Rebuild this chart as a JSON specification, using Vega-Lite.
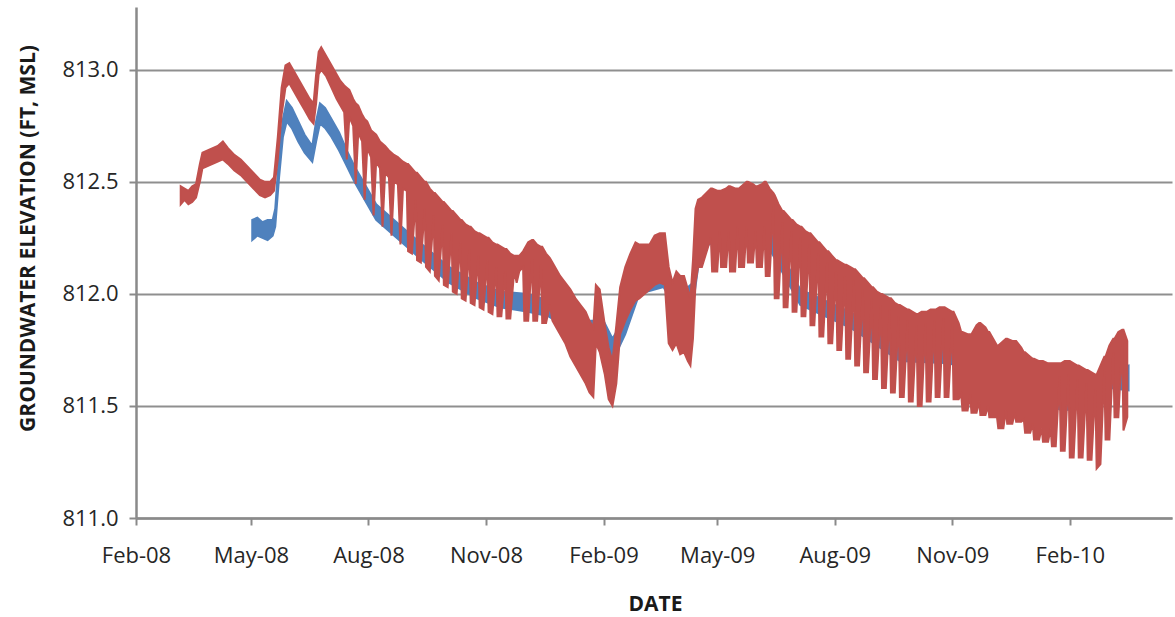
{
"$schema":"https://vega.github.io/schema/vega-lite/v6.json",
"width":1036,"height":511,
"autosize":{"type":"none"},
"padding":{"left":136,"top":7,"right":3,"bottom":99},
"background":"white",
"config":{"view":{"stroke":null},"font":"Open Sans","axis":{"labelFont":"Open Sans","titleFont":"Open Sans"}},
"datasets":{
"blue":[
{"d":"2008-05-02","l":812.24,"h":812.33},{"d":"2008-05-06","l":812.26,"h":812.34},{"d":"2008-05-10","l":812.25,"h":812.32},{"d":"2008-05-14","l":812.24,"h":812.33},{"d":"2008-05-18","l":812.26,"h":812.33},{"d":"2008-05-20","l":812.30,"h":812.38},{"d":"2008-05-23","l":812.52,"h":812.62},{"d":"2008-05-26","l":812.70,"h":812.78},{"d":"2008-05-29","l":812.77,"h":812.86},{"d":"2008-06-02","l":812.74,"h":812.83},{"d":"2008-06-07","l":812.68,"h":812.77},{"d":"2008-06-12","l":812.63,"h":812.71},{"d":"2008-06-18","l":812.59,"h":812.66},{"d":"2008-06-21","l":812.68,"h":812.77},{"d":"2008-06-24","l":812.76,"h":812.85},{"d":"2008-06-28","l":812.74,"h":812.83},{"d":"2008-07-03","l":812.70,"h":812.78},{"d":"2008-07-09","l":812.64,"h":812.72},{"d":"2008-07-15","l":812.57,"h":812.64},{"d":"2008-07-21","l":812.50,"h":812.57},{"d":"2008-07-28","l":812.43,"h":812.50},{"d":"2008-08-07","l":812.33,"h":812.40},{"d":"2008-08-25","l":812.24,"h":812.31},{"d":"2008-09-10","l":812.16,"h":812.23},{"d":"2008-10-03","l":812.05,"h":812.12},{"d":"2008-10-25","l":811.98,"h":812.05},{"d":"2008-11-12","l":811.94,"h":812.01},{"d":"2008-12-04","l":811.92,"h":812.00},{"d":"2008-12-20","l":811.90,"h":811.97},{"d":"2009-01-16","l":811.80,"h":811.88},{"d":"2009-02-01","l":811.78,"h":811.88},{"d":"2009-02-08","l":811.70,"h":811.80},{"d":"2009-02-18","l":811.82,"h":811.90},{"d":"2009-03-01","l":812.00,"h":812.08},{"d":"2009-03-20","l":812.03,"h":812.11},{"d":"2009-04-02","l":811.90,"h":812.00},{"d":"2009-04-12","l":811.95,"h":812.05},{"d":"2009-04-18","l":812.20,"h":812.30},{"d":"2009-05-01","l":812.24,"h":812.32},{"d":"2009-06-11","l":812.20,"h":812.28},{"d":"2009-07-05","l":811.95,"h":812.02},{"d":"2009-08-13","l":811.85,"h":811.92},{"d":"2009-09-21","l":811.70,"h":811.78},{"d":"2009-10-30","l":811.69,"h":811.76},{"d":"2009-12-08","l":811.60,"h":811.66},{"d":"2010-01-26","l":811.48,"h":811.57},{"d":"2010-02-25","l":811.50,"h":811.58},{"d":"2010-03-05","l":811.58,"h":811.66},{"d":"2010-03-19","l":811.57,"h":811.68}
],
"red":[
{"d":"2008-03-07","l":812.40,"h":812.48},{"d":"2008-03-10","l":812.42,"h":812.47},{"d":"2008-03-13","l":812.40,"h":812.46},{"d":"2008-03-16","l":812.41,"h":812.48},{"d":"2008-03-19","l":812.43,"h":812.49},{"d":"2008-03-22","l":812.50,"h":812.58},{"d":"2008-03-24","l":812.56,"h":812.63},{"d":"2008-03-28","l":812.57,"h":812.64},{"d":"2008-04-01","l":812.58,"h":812.65},{"d":"2008-04-05","l":812.59,"h":812.66},{"d":"2008-04-09","l":812.60,"h":812.68},{"d":"2008-04-13","l":812.58,"h":812.65},{"d":"2008-04-18","l":812.55,"h":812.62},{"d":"2008-04-23","l":812.53,"h":812.60},{"d":"2008-04-28","l":812.50,"h":812.57},{"d":"2008-05-03","l":812.47,"h":812.54},{"d":"2008-05-08","l":812.44,"h":812.51},{"d":"2008-05-12","l":812.43,"h":812.50},{"d":"2008-05-16","l":812.44,"h":812.50},{"d":"2008-05-19","l":812.46,"h":812.52},{"d":"2008-05-22","l":812.60,"h":812.70},{"d":"2008-05-25","l":812.80,"h":812.92},{"d":"2008-05-28","l":812.92,"h":813.02},{"d":"2008-05-31","l":812.94,"h":813.03},{"d":"2008-06-04","l":812.90,"h":812.99},{"d":"2008-06-08","l":812.86,"h":812.95},{"d":"2008-06-12","l":812.82,"h":812.91},{"d":"2008-06-16","l":812.78,"h":812.87},{"d":"2008-06-19","l":812.76,"h":812.85},{"d":"2008-06-21","l":812.85,"h":812.98},{"d":"2008-06-23","l":812.98,"h":813.08},{"d":"2008-06-25","l":813.00,"h":813.10},{"d":"2008-06-29","l":812.97,"h":813.06},{"d":"2008-07-03","l":812.92,"h":813.02},{"d":"2008-07-07","l":812.87,"h":812.98},{"d":"2008-07-10","l":812.84,"h":812.95},
{"d":"2008-07-13","l":812.81,"h":812.93},{"d":"2008-07-15","l":812.60,"h":812.92},{"d":"2008-07-17","l":812.79,"h":812.91},
{"d":"2008-07-20","l":812.75,"h":812.87},{"d":"2008-07-22","l":812.49,"h":812.85},{"d":"2008-07-24","l":812.72,"h":812.84},
{"d":"2008-07-27","l":812.68,"h":812.80},{"d":"2008-07-29","l":812.42,"h":812.78},{"d":"2008-07-31","l":812.65,"h":812.77},
{"d":"2008-08-03","l":812.61,"h":812.73},{"d":"2008-08-05","l":812.35,"h":812.72},{"d":"2008-08-07","l":812.59,"h":812.71},
{"d":"2008-08-10","l":812.56,"h":812.68},{"d":"2008-08-12","l":812.30,"h":812.67},{"d":"2008-08-14","l":812.54,"h":812.66},
{"d":"2008-08-17","l":812.52,"h":812.64},{"d":"2008-08-19","l":812.26,"h":812.63},{"d":"2008-08-21","l":812.50,"h":812.62},
{"d":"2008-08-24","l":812.49,"h":812.61},{"d":"2008-08-26","l":812.22,"h":812.60},{"d":"2008-08-28","l":812.47,"h":812.59},
{"d":"2008-08-31","l":812.46,"h":812.58},{"d":"2008-09-01","l":812.19,"h":812.58},{"d":"2008-09-04","l":812.18,"h":812.56},
{"d":"2008-09-07","l":812.42,"h":812.54},{"d":"2008-09-08","l":812.15,"h":812.54},{"d":"2008-09-11","l":812.14,"h":812.52},
{"d":"2008-09-14","l":812.38,"h":812.50},{"d":"2008-09-15","l":812.12,"h":812.50},{"d":"2008-09-18","l":812.10,"h":812.47},
{"d":"2008-09-21","l":812.35,"h":812.45},{"d":"2008-09-22","l":812.08,"h":812.45},{"d":"2008-09-25","l":812.06,"h":812.43},
{"d":"2008-09-28","l":812.31,"h":812.41},{"d":"2008-09-29","l":812.04,"h":812.41},{"d":"2008-10-02","l":812.03,"h":812.39},
{"d":"2008-10-05","l":812.27,"h":812.37},{"d":"2008-10-06","l":812.01,"h":812.37},{"d":"2008-10-09","l":812.00,"h":812.35},
{"d":"2008-10-12","l":812.23,"h":812.33},{"d":"2008-10-13","l":811.98,"h":812.33},{"d":"2008-10-16","l":811.97,"h":812.31},
{"d":"2008-10-19","l":812.20,"h":812.30},{"d":"2008-10-20","l":811.96,"h":812.30},{"d":"2008-10-23","l":811.95,"h":812.28},
{"d":"2008-10-26","l":812.17,"h":812.27},{"d":"2008-10-27","l":811.94,"h":812.27},{"d":"2008-10-30","l":811.93,"h":812.26},
{"d":"2008-11-02","l":812.15,"h":812.25},{"d":"2008-11-03","l":811.92,"h":812.25},{"d":"2008-11-06","l":811.91,"h":812.23},
{"d":"2008-11-09","l":812.12,"h":812.22},{"d":"2008-11-10","l":811.90,"h":812.22},{"d":"2008-11-13","l":811.90,"h":812.21},
{"d":"2008-11-16","l":812.10,"h":812.20},{"d":"2008-11-17","l":811.89,"h":812.20},{"d":"2008-11-20","l":811.89,"h":812.18},
{"d":"2008-11-23","l":812.10,"h":812.17},{"d":"2008-11-25","l":812.05,"h":812.17},{"d":"2008-11-27","l":812.10,"h":812.17},
{"d":"2008-11-30","l":812.12,"h":812.19},{"d":"2008-12-01","l":811.88,"h":812.20},{"d":"2008-12-04","l":811.88,"h":812.23},
{"d":"2008-12-07","l":812.16,"h":812.24},{"d":"2008-12-08","l":811.88,"h":812.24},{"d":"2008-12-11","l":811.88,"h":812.22},
{"d":"2008-12-14","l":812.13,"h":812.21},{"d":"2008-12-15","l":811.87,"h":812.21},{"d":"2008-12-18","l":811.87,"h":812.18},
{"d":"2008-12-21","l":811.95,"h":812.16},{"d":"2008-12-23","l":811.88,"h":812.14},{"d":"2008-12-26","l":811.85,"h":812.11},{"d":"2008-12-29","l":811.82,"h":812.08},{"d":"2009-01-02","l":811.78,"h":812.05},{"d":"2009-01-06","l":811.72,"h":812.02},{"d":"2009-01-10","l":811.68,"h":811.98},{"d":"2009-01-14","l":811.64,"h":811.95},{"d":"2009-01-18","l":811.60,"h":811.92},{"d":"2009-01-21","l":811.56,"h":811.88},{"d":"2009-01-24","l":811.54,"h":811.85},{"d":"2009-01-26","l":811.78,"h":812.04},{"d":"2009-01-29","l":811.74,"h":812.02},{"d":"2009-02-02","l":811.64,"h":811.86},{"d":"2009-02-05","l":811.53,"h":811.76},{"d":"2009-02-08","l":811.50,"h":811.70},{"d":"2009-02-11","l":811.60,"h":811.86},{"d":"2009-02-14","l":811.82,"h":812.03},{"d":"2009-02-18","l":811.88,"h":812.12},{"d":"2009-02-22","l":811.93,"h":812.18},{"d":"2009-02-26","l":811.97,"h":812.23},{"d":"2009-03-01","l":811.98,"h":812.22},{"d":"2009-03-05","l":812.00,"h":812.22},{"d":"2009-03-09","l":812.02,"h":812.22},{"d":"2009-03-13","l":812.04,"h":812.26},{"d":"2009-03-17","l":812.05,"h":812.27},{"d":"2009-03-21","l":812.04,"h":812.27},{"d":"2009-03-24","l":811.78,"h":812.12},{"d":"2009-03-27","l":811.75,"h":812.05},{"d":"2009-03-30","l":811.78,"h":812.10},{"d":"2009-04-02","l":811.73,"h":812.08},{"d":"2009-04-05","l":811.74,"h":812.08},{"d":"2009-04-08","l":811.70,"h":812.02},{"d":"2009-04-10","l":811.68,"h":811.98},{"d":"2009-04-12","l":811.80,"h":812.15},{"d":"2009-04-14","l":812.05,"h":812.38},{"d":"2009-04-16","l":812.12,"h":812.42},{"d":"2009-04-19","l":812.12,"h":812.43},
{"d":"2009-04-26","l":812.25,"h":812.47},{"d":"2009-04-27","l":812.10,"h":812.47},{"d":"2009-05-01","l":812.10,"h":812.46},
{"d":"2009-05-03","l":812.28,"h":812.46},{"d":"2009-05-04","l":812.12,"h":812.46},{"d":"2009-05-08","l":812.12,"h":812.47},
{"d":"2009-05-10","l":812.28,"h":812.48},{"d":"2009-05-11","l":812.10,"h":812.48},{"d":"2009-05-15","l":812.10,"h":812.47},
{"d":"2009-05-17","l":812.30,"h":812.47},{"d":"2009-05-18","l":812.12,"h":812.47},{"d":"2009-05-22","l":812.12,"h":812.49},
{"d":"2009-05-24","l":812.30,"h":812.50},{"d":"2009-05-25","l":812.14,"h":812.50},{"d":"2009-05-29","l":812.14,"h":812.49},
{"d":"2009-05-31","l":812.28,"h":812.48},{"d":"2009-06-01","l":812.12,"h":812.48},{"d":"2009-06-05","l":812.12,"h":812.49},
{"d":"2009-06-07","l":812.30,"h":812.50},{"d":"2009-06-08","l":812.08,"h":812.50},{"d":"2009-06-11","l":812.08,"h":812.47},
{"d":"2009-06-14","l":812.40,"h":812.45},{"d":"2009-06-15","l":811.98,"h":812.44},{"d":"2009-06-18","l":811.98,"h":812.40},
{"d":"2009-06-21","l":812.32,"h":812.37},{"d":"2009-06-22","l":811.94,"h":812.37},{"d":"2009-06-25","l":811.94,"h":812.35},
{"d":"2009-06-28","l":812.28,"h":812.33},{"d":"2009-06-29","l":811.92,"h":812.33},{"d":"2009-07-02","l":811.92,"h":812.31},
{"d":"2009-07-05","l":812.25,"h":812.30},{"d":"2009-07-06","l":811.90,"h":812.30},{"d":"2009-07-09","l":811.90,"h":812.28},
{"d":"2009-07-12","l":812.22,"h":812.27},{"d":"2009-07-13","l":811.86,"h":812.27},{"d":"2009-07-16","l":811.86,"h":812.25},
{"d":"2009-07-19","l":812.18,"h":812.23},{"d":"2009-07-20","l":811.81,"h":812.23},{"d":"2009-07-23","l":811.81,"h":812.21},
{"d":"2009-07-26","l":812.14,"h":812.19},{"d":"2009-07-27","l":811.78,"h":812.19},{"d":"2009-07-30","l":811.78,"h":812.17},
{"d":"2009-08-02","l":812.10,"h":812.15},{"d":"2009-08-03","l":811.75,"h":812.15},{"d":"2009-08-06","l":811.75,"h":812.14},
{"d":"2009-08-09","l":812.08,"h":812.13},{"d":"2009-08-10","l":811.71,"h":812.13},{"d":"2009-08-13","l":811.71,"h":812.12},
{"d":"2009-08-16","l":812.06,"h":812.11},{"d":"2009-08-17","l":811.68,"h":812.11},{"d":"2009-08-20","l":811.68,"h":812.09},
{"d":"2009-08-23","l":812.02,"h":812.07},{"d":"2009-08-24","l":811.65,"h":812.07},{"d":"2009-08-27","l":811.65,"h":812.05},
{"d":"2009-08-30","l":811.98,"h":812.03},{"d":"2009-08-31","l":811.62,"h":812.03},{"d":"2009-09-03","l":811.62,"h":812.01},
{"d":"2009-09-06","l":811.95,"h":812.00},{"d":"2009-09-07","l":811.58,"h":812.00},{"d":"2009-09-10","l":811.58,"h":811.99},
{"d":"2009-09-13","l":811.93,"h":811.98},{"d":"2009-09-14","l":811.56,"h":811.98},{"d":"2009-09-17","l":811.56,"h":811.96},
{"d":"2009-09-20","l":811.90,"h":811.95},{"d":"2009-09-21","l":811.54,"h":811.95},{"d":"2009-09-24","l":811.54,"h":811.94},
{"d":"2009-09-27","l":811.88,"h":811.93},{"d":"2009-09-28","l":811.52,"h":811.93},{"d":"2009-10-01","l":811.52,"h":811.92},
{"d":"2009-10-04","l":811.86,"h":811.91},{"d":"2009-10-05","l":811.50,"h":811.91},{"d":"2009-10-08","l":811.50,"h":811.92},
{"d":"2009-10-11","l":811.87,"h":811.92},{"d":"2009-10-12","l":811.52,"h":811.92},{"d":"2009-10-15","l":811.52,"h":811.93},
{"d":"2009-10-18","l":811.88,"h":811.93},{"d":"2009-10-19","l":811.54,"h":811.93},{"d":"2009-10-22","l":811.54,"h":811.94},
{"d":"2009-10-25","l":811.89,"h":811.94},{"d":"2009-10-26","l":811.54,"h":811.94},{"d":"2009-10-29","l":811.54,"h":811.93},
{"d":"2009-11-01","l":811.87,"h":811.92},{"d":"2009-11-02","l":811.53,"h":811.92},{"d":"2009-11-06","l":811.53,"h":811.87},
{"d":"2009-11-08","l":811.55,"h":811.83},{"d":"2009-11-09","l":811.48,"h":811.83},{"d":"2009-11-13","l":811.48,"h":811.82},
{"d":"2009-11-15","l":811.55,"h":811.82},{"d":"2009-11-16","l":811.47,"h":811.82},{"d":"2009-11-20","l":811.47,"h":811.86},
{"d":"2009-11-22","l":811.52,"h":811.87},{"d":"2009-11-23","l":811.46,"h":811.87},{"d":"2009-11-27","l":811.46,"h":811.85},
{"d":"2009-11-29","l":811.50,"h":811.83},{"d":"2009-11-30","l":811.45,"h":811.83},{"d":"2009-12-04","l":811.45,"h":811.79},
{"d":"2009-12-06","l":811.45,"h":811.77},{"d":"2009-12-07","l":811.40,"h":811.77},{"d":"2009-12-11","l":811.40,"h":811.79},
{"d":"2009-12-13","l":811.48,"h":811.80},{"d":"2009-12-14","l":811.42,"h":811.80},{"d":"2009-12-18","l":811.42,"h":811.79},
{"d":"2009-12-20","l":811.47,"h":811.79},{"d":"2009-12-21","l":811.43,"h":811.79},{"d":"2009-12-25","l":811.43,"h":811.76},
{"d":"2009-12-27","l":811.44,"h":811.74},{"d":"2009-12-28","l":811.38,"h":811.74},{"d":"2010-01-01","l":811.38,"h":811.72},
{"d":"2010-01-03","l":811.42,"h":811.71},{"d":"2010-01-04","l":811.35,"h":811.71},{"d":"2010-01-08","l":811.35,"h":811.70},
{"d":"2010-01-10","l":811.40,"h":811.70},{"d":"2010-01-11","l":811.34,"h":811.70},{"d":"2010-01-15","l":811.34,"h":811.69},
{"d":"2010-01-17","l":811.40,"h":811.69},{"d":"2010-01-18","l":811.32,"h":811.69},{"d":"2010-01-21","l":811.32,"h":811.69},
{"d":"2010-01-24","l":811.63,"h":811.69},{"d":"2010-01-25","l":811.30,"h":811.69},{"d":"2010-01-28","l":811.30,"h":811.70},
{"d":"2010-01-31","l":811.64,"h":811.70},{"d":"2010-02-01","l":811.27,"h":811.70},{"d":"2010-02-04","l":811.27,"h":811.69},
{"d":"2010-02-07","l":811.62,"h":811.68},{"d":"2010-02-08","l":811.27,"h":811.68},{"d":"2010-02-11","l":811.27,"h":811.67},
{"d":"2010-02-14","l":811.60,"h":811.66},{"d":"2010-02-15","l":811.26,"h":811.66},{"d":"2010-02-18","l":811.26,"h":811.65},
{"d":"2010-02-21","l":811.58,"h":811.64},{"d":"2010-02-22","l":811.22,"h":811.64},{"d":"2010-02-25","l":811.24,"h":811.68},
{"d":"2010-02-28","l":811.66,"h":811.72},{"d":"2010-03-01","l":811.35,"h":811.72},{"d":"2010-03-04","l":811.35,"h":811.77},
{"d":"2010-03-07","l":811.74,"h":811.80},{"d":"2010-03-08","l":811.45,"h":811.80},{"d":"2010-03-11","l":811.45,"h":811.83},
{"d":"2010-03-14","l":811.78,"h":811.84},{"d":"2010-03-15","l":811.39,"h":811.84},{"d":"2010-03-18","l":811.45,"h":811.79}
]
},
"encoding":{
"x":{"field":"d","type":"temporal",
 "scale":{"type":"utc","domain":[{"year":2008,"month":2,"date":1,"utc":true},{"year":2010,"month":4,"date":22,"utc":true}]},
 "axis":{"title":"DATE","labelExpr":"utcFormat(datum.value, '%b-%y')",
  "values":[{"year":2008,"month":2,"date":1,"utc":true},{"year":2008,"month":5,"date":1,"utc":true},{"year":2008,"month":8,"date":1,"utc":true},{"year":2008,"month":11,"date":1,"utc":true},{"year":2009,"month":2,"date":1,"utc":true},{"year":2009,"month":5,"date":1,"utc":true},{"year":2009,"month":8,"date":1,"utc":true},{"year":2009,"month":11,"date":1,"utc":true},{"year":2010,"month":2,"date":1,"utc":true}],
  "grid":false,"domainColor":"#8a8a8a","domainWidth":2.5,"tickColor":"#8a8a8a","tickWidth":2,"tickSize":7,
  "labelFontSize":22,"labelColor":"#262626","labelPadding":20,"labelFlush":false,"labelOverlap":false,
  "titleFontSize":21,"titleFontWeight":"bold","titleColor":"#1a1a1a","titleX":519,"titleY":86,"titleBaseline":"middle","titleAlign":"center"}},
"y":{"field":"l","type":"quantitative",
 "scale":{"domain":[811,813.28],"nice":false,"zero":false},
 "axis":{"title":"GROUNDWATER ELEVATION (FT, MSL)","values":[811,811.5,812,812.5,813],"format":".1f",
  "grid":true,"gridColor":"#8f8f8f","gridWidth":2,"domainColor":"#8a8a8a","domainWidth":2.5,"tickColor":"#8a8a8a","tickWidth":2,"tickSize":7,
  "labelFontSize":22,"labelColor":"#262626","labelPadding":11,
  "titleFontSize":21,"titleFontWeight":"bold","titleColor":"#1a1a1a","titleX":-108,"titleY":231,"titleAngle":270,"titleBaseline":"middle","titleAlign":"center"}},
"y2":{"field":"h"}
},
"layer":[
{"data":{"name":"blue"},"mark":{"type":"area","color":"#4F81BD","stroke":"#4F81BD","strokeWidth":2,"interpolate":"linear","clip":true}},
{"data":{"name":"red"},"mark":{"type":"area","color":"#C0504D","stroke":"#C0504D","strokeWidth":2,"interpolate":"linear","clip":true}}
]
}
